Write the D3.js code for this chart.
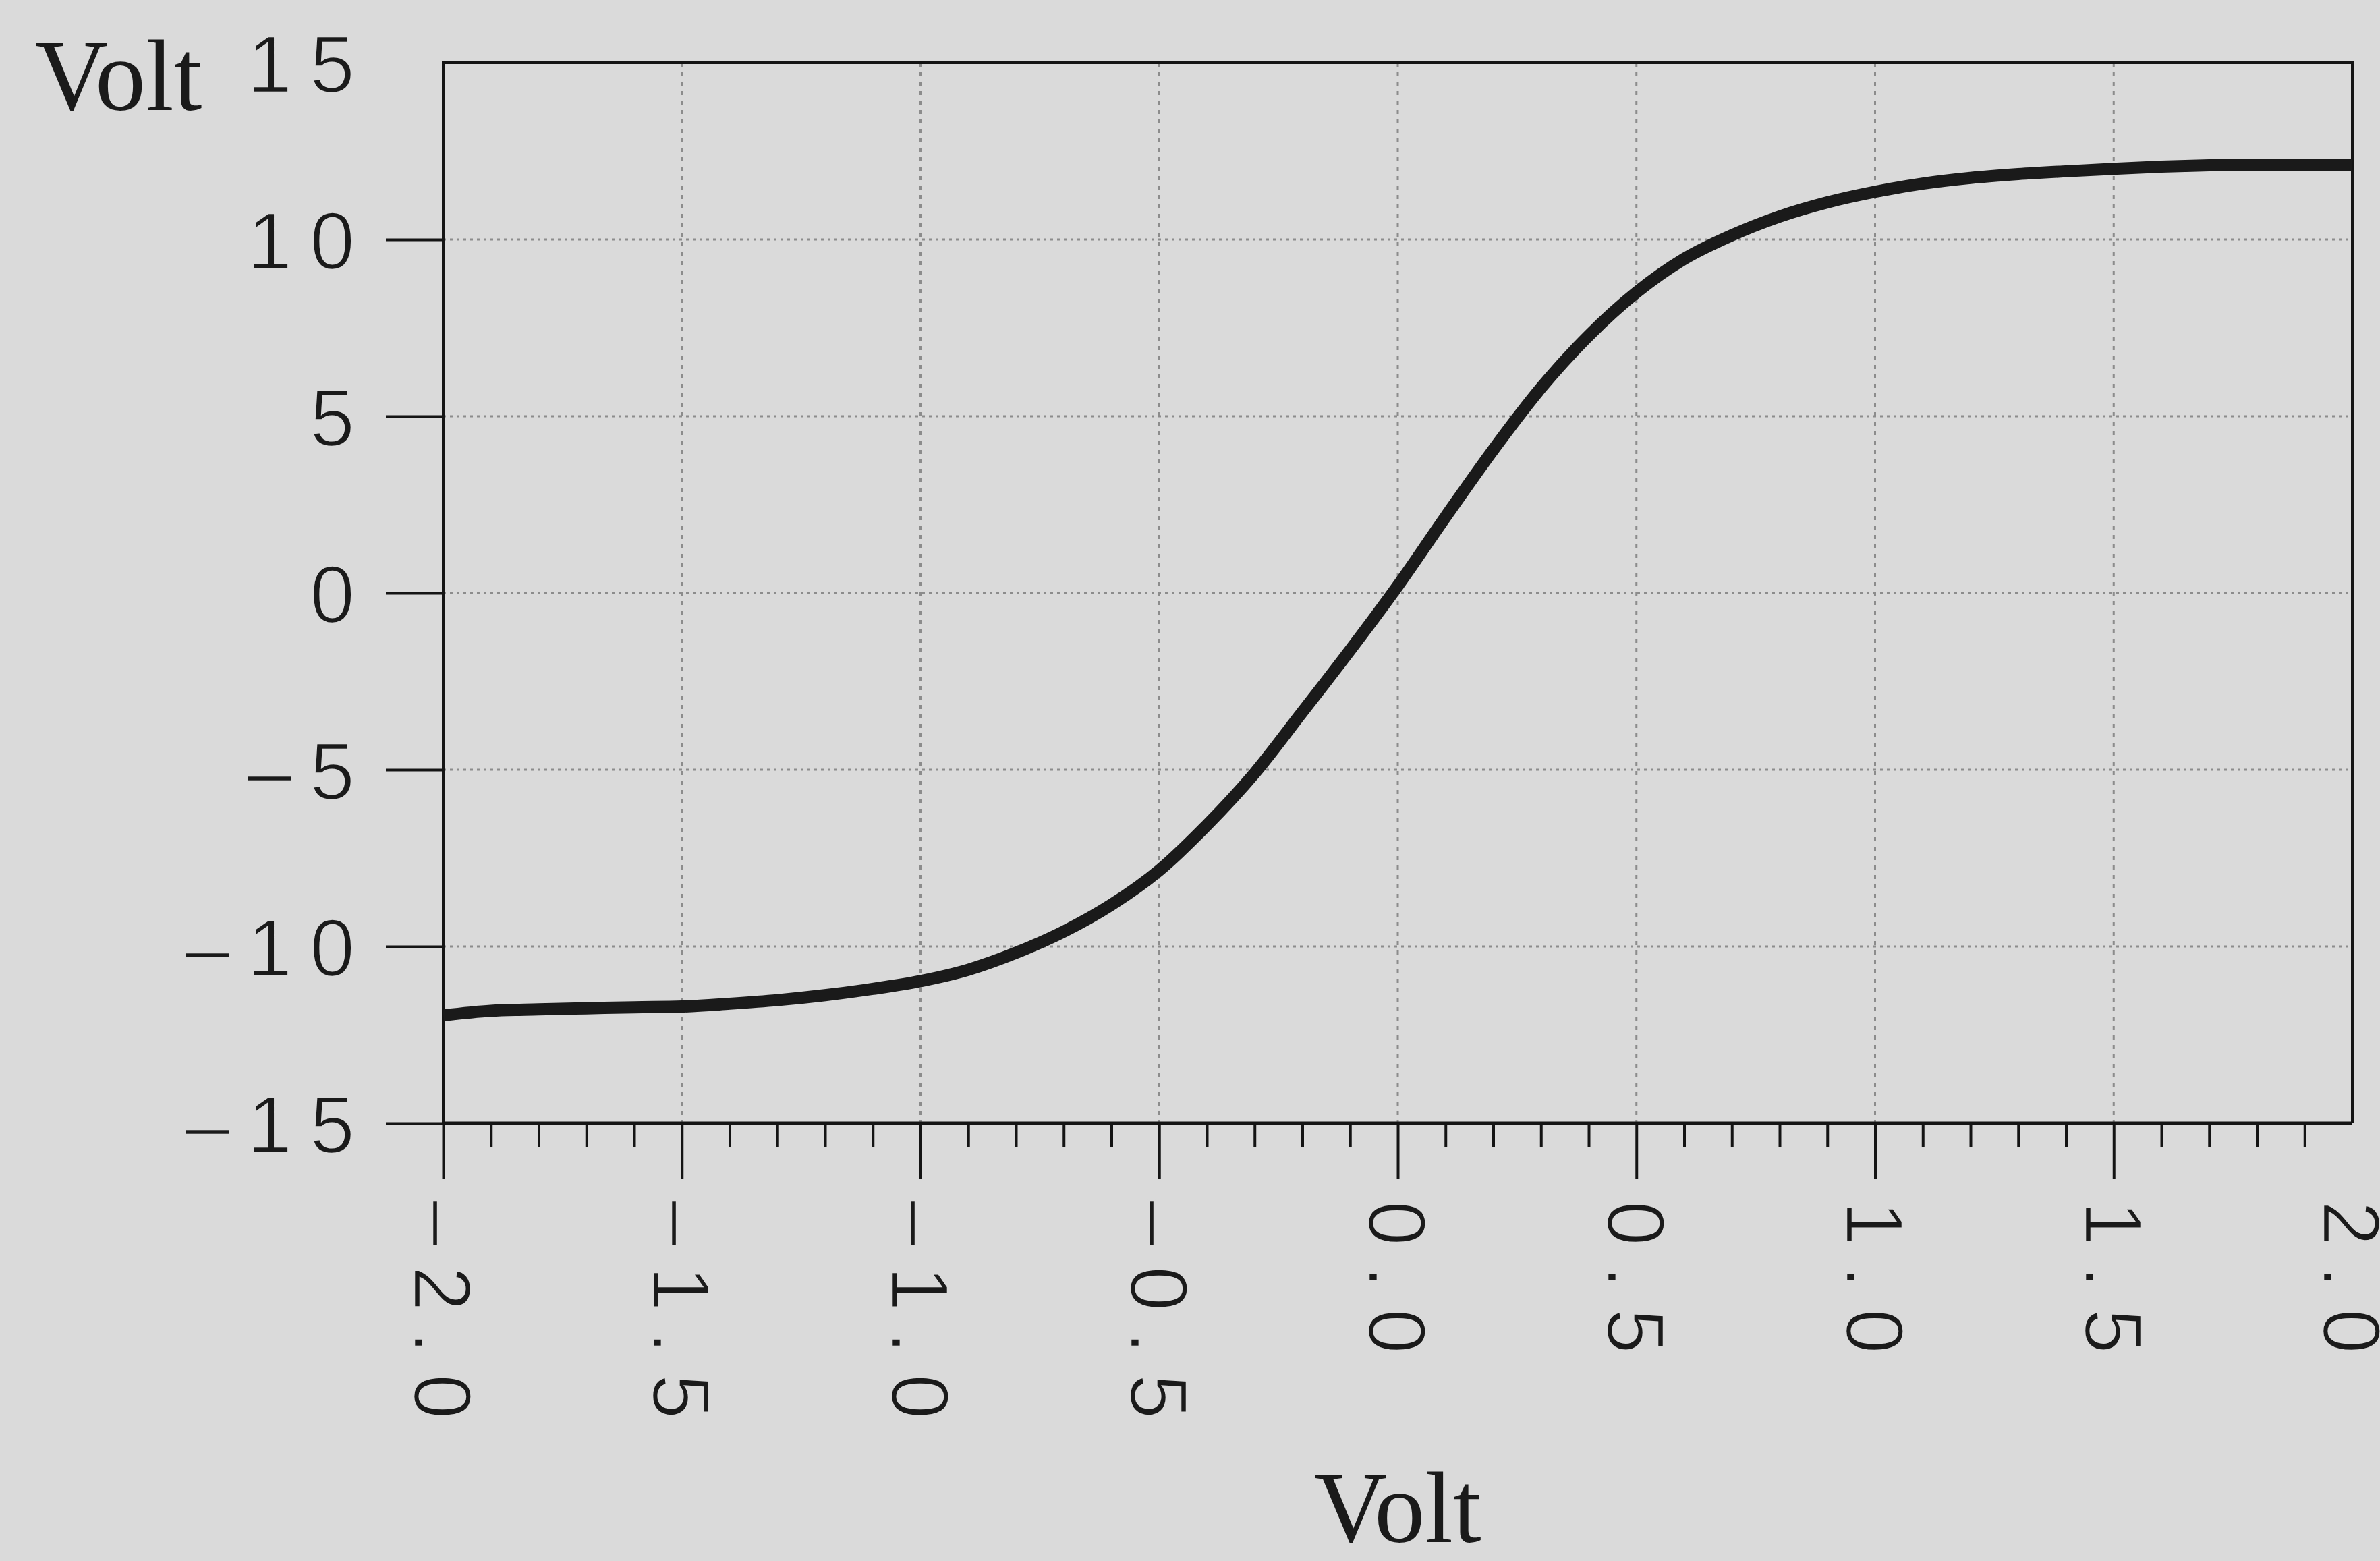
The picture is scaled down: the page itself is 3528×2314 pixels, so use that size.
<!DOCTYPE html>
<html>
<head>
<meta charset="utf-8">
<script src="https://cdn.jsdelivr.net/npm/d3@7"></script>
<style>
  body { margin: 0; background: #dadada; }
  svg { display: block; }
</style>
</head>
<body>
<script>

var width = 3528;
var height = 2314;
var plot = {left: 657, right: 3487, top: 93, bottom: 1665};

// transfer curve, every 0.1 V
var inputVolt = [-2.0, -1.9, -1.8, -1.7, -1.6, -1.5, -1.4, -1.3, -1.2, -1.1,
                 -1.0, -0.9, -0.8, -0.7, -0.6, -0.5, -0.4, -0.3, -0.2, -0.1,
                  0.0,  0.1,  0.2,  0.3,  0.4,  0.5,  0.6,  0.7,  0.8,  0.9,
                  1.0,  1.1,  1.2,  1.3,  1.4,  1.5,  1.6,  1.7,  1.8,  1.9, 2.0];
var outputVolt = [-11.95, -11.82, -11.78, -11.75, -11.72, -11.70, -11.62, -11.52, -11.38, -11.20,
                  -10.98, -10.66, -10.18, -9.58, -8.82, -7.85, -6.57, -5.10, -3.37, -1.62,
                    0.20,   2.15,   4.05,  5.80,  7.28,  8.50,  9.45, 10.12, 10.65, 11.05,
                   11.35,  11.58,  11.74, 11.85, 11.93, 12.00, 12.06, 12.10, 12.12, 12.12, 12.12];

// the plotter draws its minus as a long dash
var xTicks = [-2.0, -1.5, -1.0, -0.5, 0.0, 0.5, 1.0, 1.5, 2.0];
var xTickLabels = ["\u20132.0", "\u20131.5", "\u20131.0", "\u20130.5", "0.0", "0.5", "1.0", "1.5", "2.0"];
var yTicks = [-15, -10, -5, 0, 5, 10, 15];
var yTickLabels = ["\u201315", "\u201310", "\u20135", "0", "5", "10", "15"];
var xTitle = "Volt";
var yTitle = "Volt";

var xScale = d3.scaleLinear()
    .domain([-2, 2])
    .range([plot.left, plot.right]);
var yScale = d3.scaleLinear()
    .domain([-15, 15])
    .range([plot.bottom, plot.top]);

var svg = d3.select('body')
    .append('svg')
        .attr('width', width)
        .attr('height', height);

svg.append('rect')
    .attr('width', width)
    .attr('height', height)
    .attr('fill', '#dadada');

// dotted grid
svg.append('g')
    .selectAll('line')
    .data(yTicks.filter(d => Math.abs(d) < 15))
    .enter().append('line')
        .attr('x1', plot.left).attr('x2', plot.right)
        .attr('y1', d => yScale(d)).attr('y2', d => yScale(d))
        .attr('stroke', '#8c8c8c')
        .attr('stroke-width', 3)
        .attr('stroke-dasharray', '4,6');

svg.append('g')
    .selectAll('line')
    .data(xTicks.filter(d => Math.abs(d) < 2))
    .enter().append('line')
        .attr('x1', d => xScale(d)).attr('x2', d => xScale(d))
        .attr('y1', plot.top).attr('y2', plot.bottom)
        .attr('stroke', '#8c8c8c')
        .attr('stroke-width', 3)
        .attr('stroke-dasharray', '6,8');

// frame
var frame = svg.append('g')
    .attr('stroke', '#141414')
    .attr('fill', 'none');
frame.append('path')
    .attr('stroke-width', 4)
    .attr('d', 'M' + plot.left + ',' + plot.bottom + 'V' + plot.top + 'H' + plot.right + 'V' + plot.bottom);
frame.append('line')
    .attr('stroke-width', 5)
    .attr('x1', plot.left).attr('x2', plot.right)
    .attr('y1', plot.bottom).attr('y2', plot.bottom);

var tickFont = "'Liberation Sans', Arial, sans-serif";

// thin the tick digits a little, like the original plotter font
function tickText(sel, spacing) {
    sel.attr('fill', '#1a1a1a')
        .attr('stroke', '#dadada')
        .attr('stroke-width', 2.5)
        .style('font-family', tickFont)
        .style('font-size', '120px')
        .style('letter-spacing', spacing);
}

// x axis, minor ticks first
var xMinor = xScale.ticks(40).filter(d => Math.abs(d * 2 - Math.round(d * 2)) > 1e-6);
svg.append('g')
    .attr('class', 'x minor')
    .attr('transform', 'translate(0,' + plot.bottom + ')')
    .call(d3.axisBottom(xScale).tickValues(xMinor).tickSize(36).tickFormat(''))
    .call(g => g.select('.domain').remove())
    .call(g => g.selectAll('line').attr('stroke', '#141414').attr('stroke-width', 4));

var xAxis = d3.axisBottom(xScale)
    .tickValues(xTicks)
    .tickSize(82)
    .tickFormat((d, i) => xTickLabels[i]);

svg.append('g')
    .attr('class', 'x axis')
    .attr('transform', 'translate(0,' + plot.bottom + ')')
    .call(xAxis)
    .call(g => g.select('.domain').remove())
    .call(g => g.selectAll('line')
        .attr('stroke', '#141414')
        .attr('stroke-width', 4)
        .attr('display', d => d === 2 ? 'none' : null))
    .call(g => g.selectAll('text')
        .attr('x', 115)
        .attr('y', 0)
        .attr('dy', '0.36em')
        .attr('text-anchor', 'start')
        .attr('transform', 'rotate(90)')
        .call(tickText, '30px'));

var yAxis = d3.axisLeft(yScale)
    .tickValues(yTicks)
    .tickSize(85)
    .tickPadding(20)
    .tickFormat((d, i) => yTickLabels[i]);

svg.append('g')
    .attr('class', 'y axis')
    .attr('transform', 'translate(' + plot.left + ',0)')
    .call(yAxis)
    .call(g => g.select('.domain').remove())
    .call(g => g.selectAll('line')
        .attr('stroke', '#141414')
        .attr('stroke-width', 4)
        .attr('display', d => d === 15 ? 'none' : null))
    .call(g => g.selectAll('text')
        .attr('dy', '0.36em')
        .call(tickText, '26px'));

svg.selectAll('.axis, .minor').attr('font-size', null).attr('font-family', null);

// the curve
var line = d3.line()
    .x((d, i) => xScale(inputVolt[i]))
    .y(d => yScale(d))
    .curve(d3.curveMonotoneX);

svg.append('path')
    .datum(outputVolt)
    .attr('fill', 'none')
    .attr('stroke', '#1a1a1a')
    .attr('stroke-width', 18)
    .attr('stroke-linejoin', 'round')
    .attr('d', line);

// titles
svg.append('text')
    .attr('x', 52)
    .attr('y', 163)
    .attr('fill', '#1a1a1a')
    .style('font-family', "'Liberation Serif', 'Times New Roman', serif")
    .style('font-size', '150px')
    .text(yTitle);

svg.append('text')
    .attr('x', xScale(0))
    .attr('y', 2286)
    .attr('text-anchor', 'middle')
    .attr('fill', '#1a1a1a')
    .style('font-family', "'Liberation Serif', 'Times New Roman', serif")
    .style('font-size', '150px')
    .text(xTitle);

</script>
</body>
</html>
